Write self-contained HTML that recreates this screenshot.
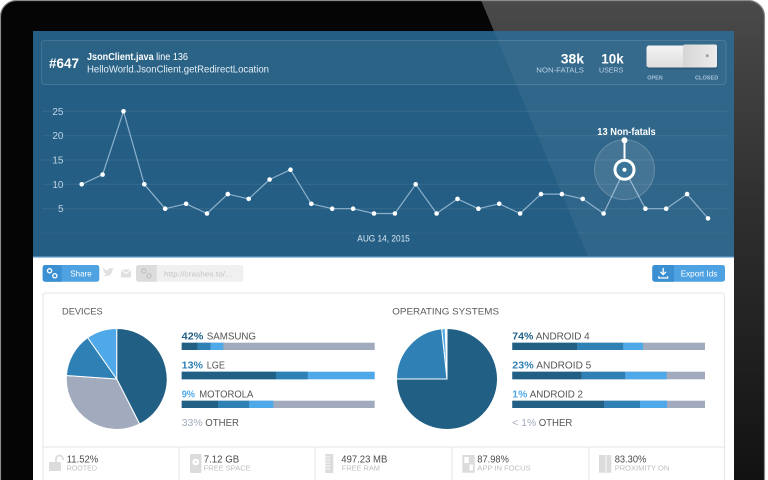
<!DOCTYPE html>
<html><head><meta charset="utf-8"><style>
html,body{margin:0;padding:0;background:#fff;width:768px;height:480px;overflow:hidden;}
svg{display:block;overflow:hidden;}
text{font-family:"Liberation Sans",Arial,sans-serif;}
</style></head><body>
<svg width="768" height="480" viewBox="0 0 768 480" xmlns="http://www.w3.org/2000/svg">
<defs>
<clipPath id="bz"><path d="M0.5,480 V16.5 A16,16 0 0 1 16.5,0.5 H748.5 A16,16 0 0 1 764.5,16.5 V480 Z"/></clipPath>
<linearGradient id="refl" x1="0" y1="0" x2="0" y2="1">
<stop offset="0" stop-color="#4a4a4a"/><stop offset="0.45" stop-color="#2e2e2e"/><stop offset="1" stop-color="#121212"/>
</linearGradient>
<linearGradient id="tg1" x1="0" y1="0" x2="0" y2="1"><stop offset="0" stop-color="#f4f4f4"/><stop offset="1" stop-color="#dedede"/></linearGradient>
<linearGradient id="tg2" x1="0" y1="0" x2="1" y2="0"><stop offset="0" stop-color="#d6d6d6"/><stop offset="1" stop-color="#ececec"/></linearGradient>
</defs>
<rect width="768" height="480" fill="#fff"/>
<!-- bezel -->
<path d="M0.5,480 V16.5 A16,16 0 0 1 16.5,0.5 H748.5 A16,16 0 0 1 764.5,16.5 V480 Z" fill="#050505"/>
<g clip-path="url(#bz)">
<polygon points="481,0 768,0 768,480 680,480" fill="url(#refl)"/>
</g>
<path d="M0.5,480 V16.5 A16,16 0 0 1 16.5,0.5 H748.5 A16,16 0 0 1 764.5,16.5 V480" fill="none" stroke="#8a8a8a" stroke-width="1.2"/>
<!-- screen -->
<rect x="33" y="31" width="701" height="449" fill="#fff"/>
<rect x="33" y="31" width="701" height="226" fill="#255e84"/>
<rect x="33" y="256" width="701" height="1.5" fill="#4a86b2"/>
<polygon points="494,31 734,31 734,256 587.7,256" fill="#fff" opacity="0.055"/>
<!-- header box -->
<rect x="41.5" y="40.5" width="684.5" height="44" rx="3" fill="#fff" fill-opacity="0.03" stroke="#fff" stroke-opacity="0.13"/>
<text x="49" y="68" font-size="13.5" font-weight="bold" fill="#fff" textLength="30" lengthAdjust="spacingAndGlyphs">#647</text>
<text x="87" y="60" font-size="10" fill="#fff" textLength="101" lengthAdjust="spacingAndGlyphs"><tspan font-weight="bold">JsonClient.java</tspan> line 136</text>
<text x="87" y="72.5" font-size="10" fill="#e3edf4" textLength="182" lengthAdjust="spacingAndGlyphs">HelloWorld.JsonClient.getRedirectLocation</text>
<text x="560.7" y="63.3" font-size="14" font-weight="bold" fill="#fff" textLength="23.3" lengthAdjust="spacingAndGlyphs">38k</text>
<text x="601.3" y="63.3" font-size="14" font-weight="bold" fill="#fff" textLength="22.4" lengthAdjust="spacingAndGlyphs">10k</text>
<text x="536.3" y="72.7" font-size="7.5" fill="#b9d0e2" textLength="47.7" lengthAdjust="spacingAndGlyphs">NON-FATALS</text>
<text x="599" y="72.7" font-size="7.5" fill="#b9d0e2" textLength="24.3" lengthAdjust="spacingAndGlyphs">USERS</text>
<!-- toggle -->
<rect x="647" y="47" width="70.5" height="22.5" rx="2.5" fill="#1a3d55" opacity="0.35"/>
<rect x="646.5" y="45.5" width="70.5" height="22" rx="2.5" fill="url(#tg1)"/>
<rect x="683" y="44.5" width="34" height="23" rx="2" fill="url(#tg2)"/>
<circle cx="707.3" cy="55.7" r="1.4" fill="#9a9a9a"/>
<text x="647.3" y="79.5" font-size="5" font-weight="bold" fill="#a6c2d7" textLength="15.4" lengthAdjust="spacingAndGlyphs">OPEN</text>
<text x="695" y="79.5" font-size="5" font-weight="bold" fill="#a6c2d7" textLength="23.3" lengthAdjust="spacingAndGlyphs">CLOSED</text>
<!-- grid -->
<g stroke="#fff" stroke-opacity="0.08" stroke-width="1">
<line x1="42" y1="111.3" x2="727" y2="111.3"/>
<line x1="42" y1="135.7" x2="727" y2="135.7"/>
<line x1="42" y1="160" x2="727" y2="160"/>
<line x1="42" y1="184.3" x2="727" y2="184.3"/>
<line x1="42" y1="208.7" x2="727" y2="208.7"/>
<line x1="42" y1="233" x2="727" y2="233" stroke-opacity="0.05"/>
</g>
<g font-size="10" fill="#bcd2e3" text-anchor="end">
<text x="63.5" y="114.8">25</text>
<text x="63.5" y="139.2">20</text>
<text x="63.5" y="163.5">15</text>
<text x="63.5" y="187.8">10</text>
<text x="63.5" y="212.2">5</text>
</g>
<text x="357.3" y="241.7" font-size="9.5" fill="#dbe8f1" textLength="52.5" lengthAdjust="spacingAndGlyphs">AUG 14, 2015</text>
<!-- series -->
<polyline fill="none" stroke="#9dc0d8" stroke-opacity="0.85" stroke-width="1.2" stroke-linejoin="round"
points="81.7,184.3 102.6,174.6 123.5,111.3 144.3,184.3 165.2,208.7 186.1,203.8 207,213.5 227.8,194.1 248.7,198.9 269.6,179.5 290.5,169.7 311.3,203.8 332.2,208.7 353.1,208.7 374,213.5 394.9,213.5 415.7,184.3 436.6,213.5 457.5,198.9 478.4,208.7 499.2,203.8 520.1,213.5 541,194.1 561.9,194.1 582.7,198.9 603.6,213.5 624.5,169.7 645.4,208.7 666.2,208.7 687.1,194.1 708,218.4"/>
<circle cx="624.5" cy="169.7" r="30" fill="#fff" fill-opacity="0.1" stroke="#fff" stroke-opacity="0.22" stroke-width="1"/>
<g fill="#fff">
<circle cx="81.7" cy="184.3" r="2.3"/><circle cx="102.6" cy="174.6" r="2.3"/><circle cx="123.5" cy="111.3" r="2.3"/><circle cx="144.3" cy="184.3" r="2.3"/><circle cx="165.2" cy="208.7" r="2.3"/><circle cx="186.1" cy="203.8" r="2.3"/><circle cx="207" cy="213.5" r="2.3"/><circle cx="227.8" cy="194.1" r="2.3"/><circle cx="248.7" cy="198.9" r="2.3"/><circle cx="269.6" cy="179.5" r="2.3"/><circle cx="290.5" cy="169.7" r="2.3"/><circle cx="311.3" cy="203.8" r="2.3"/><circle cx="332.2" cy="208.7" r="2.3"/><circle cx="353.1" cy="208.7" r="2.3"/><circle cx="374" cy="213.5" r="2.3"/><circle cx="394.9" cy="213.5" r="2.3"/><circle cx="415.7" cy="184.3" r="2.3"/><circle cx="436.6" cy="213.5" r="2.3"/><circle cx="457.5" cy="198.9" r="2.3"/><circle cx="478.4" cy="208.7" r="2.3"/><circle cx="499.2" cy="203.8" r="2.3"/><circle cx="520.1" cy="213.5" r="2.3"/><circle cx="541" cy="194.1" r="2.3"/><circle cx="561.9" cy="194.1" r="2.3"/><circle cx="582.7" cy="198.9" r="2.3"/><circle cx="603.6" cy="213.5" r="2.3"/><circle cx="645.4" cy="208.7" r="2.3"/><circle cx="666.2" cy="208.7" r="2.3"/><circle cx="687.1" cy="194.1" r="2.3"/><circle cx="708" cy="218.4" r="2.3"/>
</g>
<circle cx="624.5" cy="169.7" r="9.5" fill="#3a7499" stroke="#fff" stroke-width="3"/>
<circle cx="624.5" cy="169.7" r="2" fill="#fff"/>
<line x1="624.5" y1="158.7" x2="624.5" y2="140.3" stroke="#fff" stroke-width="2"/>
<circle cx="624.5" cy="140.3" r="3" fill="#fff"/>
<text x="597.3" y="135" font-size="10" font-weight="bold" fill="#fff" textLength="58.4" lengthAdjust="spacingAndGlyphs">13 Non-fatals</text>
<!-- share bar -->
<rect x="42.7" y="265" width="56.6" height="16.7" rx="2.5" fill="#4ea2e1"/>
<path d="M45.2,265 h16.5 v16.7 h-16.5 a2.5,2.5 0 0 1 -2.5,-2.5 v-11.7 a2.5,2.5 0 0 1 2.5,-2.5z" fill="#3b8fd3"/>
<g fill="none" stroke="#fff" stroke-width="1.3"><circle cx="49.6" cy="270.8" r="2.1"/><circle cx="54.8" cy="275.8" r="2.1"/></g>
<text x="70.3" y="276.6" font-size="8.5" fill="#fff" textLength="21.4" lengthAdjust="spacingAndGlyphs">Share</text>
<path d="M104,268.5 c1,1.2 2.6,2 4.4,2.1 c-0.4,-2 1.6,-3.3 3.1,-2.2 c0.7,-0.1 1.3,-0.4 1.8,-0.7 c-0.3,0.6 -0.7,1.1 -1.2,1.5 c0.5,0 1,-0.2 1.4,-0.4 c-0.3,0.5 -0.8,0.9 -1.2,1.3 c0.1,4.1 -4.4,7.6 -9.6,5.2 c1.5,0.1 2.9,-0.3 4,-1.1 c-1.3,-0.1 -2.3,-0.9 -2.6,-2 c0.4,0.1 0.8,0 1.2,-0.1 c-1.3,-0.3 -2.3,-1.4 -2.2,-2.8 c0.4,0.2 0.8,0.3 1.2,0.3 c-1.2,-0.8 -1.5,-2.1 -0.8,-3.1z" fill="#e0e0e0"/>
<rect x="121" y="269.5" width="10" height="8" fill="#e0e0e0"/>
<path d="M121,269.5 l5,4.2 l5,-4.2" fill="none" stroke="#fff" stroke-width="1"/>
<rect x="136" y="265" width="107.3" height="16.7" rx="2.5" fill="#f0f0f0"/>
<path d="M138.5,265 h18.2 v16.7 h-18.2 a2.5,2.5 0 0 1 -2.5,-2.5 v-11.7 a2.5,2.5 0 0 1 2.5,-2.5z" fill="#dcdcdc"/>
<g fill="none" stroke="#c4c4c4" stroke-width="1.3"><circle cx="143.8" cy="270.8" r="2.1"/><circle cx="149" cy="275.8" r="2.1"/></g>
<text x="164" y="276.3" font-size="7.5" fill="#c3c3c3" textLength="68" lengthAdjust="spacingAndGlyphs">http://crashes.to/...</text>
<rect x="652.3" y="265" width="72.7" height="16.7" rx="2.5" fill="#4ea2e1"/>
<path d="M654.8,265 h19.2 v16.7 h-19.2 a2.5,2.5 0 0 1 -2.5,-2.5 v-11.7 a2.5,2.5 0 0 1 2.5,-2.5z" fill="#3b8fd3"/>
<path d="M663.2,268 v6.5 M660.4,271.8 l2.8,2.8 l2.8,-2.8 M658.8,276.2 v1.8 h8.8 v-1.8" fill="none" stroke="#fff" stroke-width="1.3"/>
<text x="680.7" y="276.6" font-size="8.5" fill="#fff" textLength="36.6" lengthAdjust="spacingAndGlyphs">Export Ids</text>
<!-- card (open at bottom) -->
<path d="M43,480 V296 A3,3 0 0 1 46,293 H721.5 A3,3 0 0 1 724.5,296 V480" fill="#fff" stroke="#e4e4e4" stroke-width="1"/>
<line x1="43" y1="447" x2="724.5" y2="447" stroke="#e4e4e4"/>
<g stroke="#e4e4e4"><line x1="179" y1="447" x2="179" y2="480"/><line x1="315" y1="447" x2="315" y2="480"/><line x1="452" y1="447" x2="452" y2="480"/><line x1="589" y1="447" x2="589" y2="480"/></g>
<text x="62" y="314.7" font-size="9.5" fill="#5a5a5a" textLength="40.7" lengthAdjust="spacingAndGlyphs">DEVICES</text>
<text x="392.3" y="314.7" font-size="9.5" fill="#5a5a5a" textLength="106.7" lengthAdjust="spacingAndGlyphs">OPERATING SYSTEMS</text>
<!-- device pie -->
<g stroke="#fff" stroke-width="1" stroke-linejoin="round">
<path d="M116.7,379 L116.7,328.5 A50.5,50.5 0 0 1 139.6,424 Z" fill="#215f85"/>
<path d="M116.7,379 L139.6,424 A50.5,50.5 0 0 1 66.4,375.5 Z" fill="#a2abbd"/>
<path d="M116.7,379 L66.4,375.5 A50.5,50.5 0 0 1 87.7,337.6 Z" fill="#2f80b5"/>
<path d="M116.7,379 L87.7,337.6 A50.5,50.5 0 0 1 116.7,328.5 Z" fill="#4fa8e8"/>
</g>
<!-- os pie -->
<g stroke="#fff" stroke-width="1" stroke-linejoin="round">
<path d="M447,379 L447,328.5 A50.5,50.5 0 1 1 396.5,379 Z" fill="#215f85"/>
<path d="M447,379 L396.5,379 A50.5,50.5 0 0 1 441.7,328.8 Z" fill="#2f80b5"/>
<path d="M447,379 L441.7,328.8 A50.5,50.5 0 0 1 445.2,328.5 Z" fill="#4fa8e8"/>
</g>
<!-- labels -->
<g font-size="10.5">
<text x="181.7" y="339.3" fill="#215f85" font-weight="bold" textLength="21.6" lengthAdjust="spacingAndGlyphs">42%</text>
<text x="206.7" y="339.3" fill="#555" textLength="49.3" lengthAdjust="spacingAndGlyphs">SAMSUNG</text>
<text x="181.7" y="368.3" fill="#2f80b5" font-weight="bold" textLength="21.3" lengthAdjust="spacingAndGlyphs">13%</text>
<text x="206.7" y="368.3" fill="#555" textLength="18.3" lengthAdjust="spacingAndGlyphs">LGE</text>
<text x="181.7" y="397.3" fill="#4fa8e8" font-weight="bold" textLength="13.3" lengthAdjust="spacingAndGlyphs">9%</text>
<text x="199.3" y="397.3" fill="#555" textLength="54" lengthAdjust="spacingAndGlyphs">MOTOROLA</text>
<text x="181.7" y="426" fill="#a2abbd" textLength="21" lengthAdjust="spacingAndGlyphs">33%</text>
<text x="205.3" y="426" fill="#555" textLength="33.7" lengthAdjust="spacingAndGlyphs">OTHER</text>
<text x="512.3" y="339.3" fill="#215f85" font-weight="bold" textLength="21" lengthAdjust="spacingAndGlyphs">74%</text>
<text x="535.7" y="339.3" fill="#555" textLength="54" lengthAdjust="spacingAndGlyphs">ANDROID 4</text>
<text x="512.3" y="368.3" fill="#2f80b5" font-weight="bold" textLength="21.4" lengthAdjust="spacingAndGlyphs">23%</text>
<text x="536.3" y="368.3" fill="#555" textLength="55" lengthAdjust="spacingAndGlyphs">ANDROID 5</text>
<text x="512.3" y="397.3" fill="#4fa8e8" font-weight="bold" textLength="15" lengthAdjust="spacingAndGlyphs">1%</text>
<text x="529.7" y="397.3" fill="#555" textLength="53.3" lengthAdjust="spacingAndGlyphs">ANDROID 2</text>
<text x="512.3" y="426" fill="#a2abbd" textLength="24" lengthAdjust="spacingAndGlyphs">&lt; 1%</text>
<text x="538.7" y="426" fill="#555" textLength="33.6" lengthAdjust="spacingAndGlyphs">OTHER</text>
</g>
<g>
<rect x="181.7" y="342.7" width="193" height="7.3" fill="#a2abbd"/>
<rect x="181.7" y="342.7" width="16" height="7.3" fill="#215f85"/>
<rect x="197.7" y="342.7" width="13" height="7.3" fill="#2f80b5"/>
<rect x="210.7" y="342.7" width="12.6" height="7.3" fill="#4fa8e8"/>

<rect x="181.7" y="371.7" width="193" height="7.6" fill="#4fa8e8"/>
<rect x="181.7" y="371.7" width="94.3" height="7.6" fill="#215f85"/>
<rect x="276" y="371.7" width="31.7" height="7.6" fill="#2f80b5"/>

<rect x="181.7" y="400.7" width="193" height="7.3" fill="#a2abbd"/>
<rect x="181.7" y="400.7" width="36.3" height="7.3" fill="#215f85"/>
<rect x="218" y="400.7" width="31.3" height="7.3" fill="#2f80b5"/>
<rect x="249.3" y="400.7" width="24" height="7.3" fill="#4fa8e8"/>

<rect x="512.3" y="342.7" width="192.7" height="7.3" fill="#a2abbd"/>
<rect x="512.3" y="342.7" width="65" height="7.3" fill="#215f85"/>
<rect x="577.3" y="342.7" width="46" height="7.3" fill="#2f80b5"/>
<rect x="623.3" y="342.7" width="19.7" height="7.3" fill="#4fa8e8"/>

<rect x="512.3" y="371.7" width="192.7" height="7.6" fill="#a2abbd"/>
<rect x="512.3" y="371.7" width="69.4" height="7.6" fill="#215f85"/>
<rect x="581.7" y="371.7" width="43.6" height="7.6" fill="#2f80b5"/>
<rect x="625.3" y="371.7" width="41.4" height="7.6" fill="#4fa8e8"/>

<rect x="512.3" y="400.7" width="192.7" height="7.3" fill="#a2abbd"/>
<rect x="512.3" y="400.7" width="92" height="7.3" fill="#215f85"/>
<rect x="604.3" y="400.7" width="35.7" height="7.3" fill="#2f80b5"/>
<rect x="640" y="400.7" width="27" height="7.3" fill="#4fa8e8"/>
</g>
<!-- stats icons -->
<g fill="#dcdcdc">
<rect x="49" y="462" width="12" height="9" rx="1"/>
<path d="M56,462 v-3 a3.5,3.5 0 0 1 7,0 v1" fill="none" stroke="#dcdcdc" stroke-width="1.8"/>
<rect x="190" y="454" width="11.5" height="19" rx="1.5"/>
<circle cx="195.7" cy="462" r="3.3" fill="#fff"/><circle cx="195.7" cy="462" r="1.1"/>
<rect x="325.3" y="454" width="8" height="19"/>
<rect x="462.3" y="455" width="12.4" height="17.7"/>
<rect x="599" y="455" width="12.3" height="17.7"/>
</g>
<g stroke="#fff" stroke-width="0.8">
<line x1="325.3" y1="457" x2="330" y2="457"/><line x1="325.3" y1="460" x2="330" y2="460"/><line x1="325.3" y1="463" x2="330" y2="463"/><line x1="325.3" y1="466" x2="330" y2="466"/><line x1="325.3" y1="469" x2="330" y2="469"/>
<rect x="464.3" y="457" width="4.5" height="6" fill="#fff" stroke="none"/>
<rect x="469.5" y="464.5" width="3.5" height="6" fill="#fff" stroke="none"/>
<line x1="606" y1="455" x2="606" y2="472.7"/>
</g>
<g font-size="10" fill="#4a4a4a">
<text x="66.7" y="462.3" textLength="31.6" lengthAdjust="spacingAndGlyphs">11.52%</text>
<text x="203.7" y="462.3" textLength="35.6" lengthAdjust="spacingAndGlyphs">7.12 GB</text>
<text x="341.3" y="462.3" textLength="46" lengthAdjust="spacingAndGlyphs">497.23 MB</text>
<text x="477.3" y="462.3" textLength="31.6" lengthAdjust="spacingAndGlyphs">87.98%</text>
<text x="614.7" y="462.3" textLength="31.6" lengthAdjust="spacingAndGlyphs">83.30%</text>
</g>
<g font-size="7.5" fill="#bdbdbd">
<text x="66.7" y="470.7" textLength="30.3" lengthAdjust="spacingAndGlyphs">ROOTED</text>
<text x="203.7" y="470.7" textLength="47" lengthAdjust="spacingAndGlyphs">FREE SPACE</text>
<text x="341.7" y="470.7" textLength="38.3" lengthAdjust="spacingAndGlyphs">FREE RAM</text>
<text x="477.3" y="470.7" textLength="53.4" lengthAdjust="spacingAndGlyphs">APP IN FOCUS</text>
<text x="614.7" y="470.7" textLength="54.6" lengthAdjust="spacingAndGlyphs">PROXIMITY ON</text>
</g>
</svg>
</body></html>
